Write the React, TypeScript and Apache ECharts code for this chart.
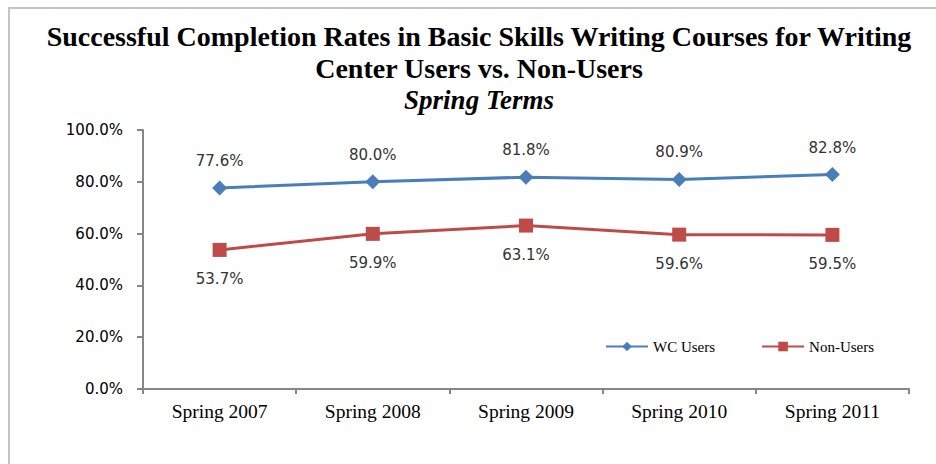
import React, { useEffect, useRef } from "react";
import * as echarts from "echarts";

const categories = ["Spring 2007", "Spring 2008", "Spring 2009", "Spring 2010", "Spring 2011"];
const wcUsers = [77.6, 80.0, 81.8, 80.9, 82.8];
const nonUsers = [53.7, 59.9, 63.1, 59.6, 59.5];
const titleLines = [
  "Successful Completion Rates in Basic Skills Writing Courses for Writing",
  "Center Users vs. Non-Users",
];
const subTitle = "Spring Terms";

export default function App() {
  const ref = useRef<HTMLDivElement>(null);
  useEffect(() => {
    if (!ref.current) return;
    const chart = echarts.init(ref.current, null, { renderer: "svg" });
    const serif = "'Liberation Serif', 'Times New Roman', serif";
    const sans = "'DejaVu Sans', sans-serif";
    chart.setOption({
      animation: false,
      backgroundColor: "#ffffff",
      graphic: [
        {
          type: "rect",
          shape: { x: 9, y: 8, width: 940, height: 470 },
          style: { fill: "none", stroke: "#c4c4c4", lineWidth: 2 },
        },
        {
          type: "text",
          x: 479,
          y: 36,
          style: {
            text: titleLines[0],
            font: `bold 28px ${serif}`,
            fill: "#000",
            textAlign: "center",
            textVerticalAlign: "middle",
          },
        },
        {
          type: "text",
          x: 479,
          y: 68,
          style: {
            text: titleLines[1],
            font: `bold 28px ${serif}`,
            fill: "#000",
            textAlign: "center",
            textVerticalAlign: "middle",
          },
        },
        {
          type: "text",
          x: 479,
          y: 100,
          style: {
            text: subTitle,
            font: `italic bold 27px ${serif}`,
            fill: "#000",
            textAlign: "center",
            textVerticalAlign: "middle",
          },
        },
      ],
      legend: {
        left: 600,
        top: 334,
        itemWidth: 42,
        itemHeight: 12,
        itemGap: 46,
        textStyle: { fontFamily: serif, fontSize: 15, color: "#000" },
        data: ["WC Users", "Non-Users"],
      },
      grid: { left: 143, right: 27, top: 130, bottom: 75, containLabel: false },
      xAxis: {
        type: "category",
        data: categories,
        axisLine: { lineStyle: { color: "#868686", width: 2 } },
        axisTick: { show: true, length: 5, lineStyle: { color: "#868686", width: 2 } },
        axisLabel: { fontFamily: serif, fontSize: 19.5, color: "#000", margin: 12 },
      },
      yAxis: {
        type: "value",
        min: 0,
        max: 100,
        interval: 20,
        axisLine: { show: true, lineStyle: { color: "#868686", width: 2 } },
        axisTick: { show: true, length: 6, lineStyle: { color: "#868686", width: 2 } },
        splitLine: { show: false },
        axisLabel: {
          fontFamily: sans,
          fontSize: 15,
          color: "#000",
          margin: 20,
          formatter: (v: number) => v.toFixed(1) + "%",
        },
      },
      series: [
        {
          name: "WC Users",
          type: "line",
          data: wcUsers,
          symbol: "diamond",
          symbolSize: 15,
          itemStyle: { color: "#4a7ebb" },
          lineStyle: { color: "#4a7ebb", width: 3 },
          label: {
            show: true,
            position: "top",
            distance: 12,
            fontFamily: sans,
            fontSize: 15,
            color: "#333",
            formatter: (p: any) => p.value.toFixed(1) + "%",
          },
        },
        {
          name: "Non-Users",
          type: "line",
          data: nonUsers,
          symbol: "rect",
          symbolSize: 14,
          itemStyle: { color: "#be4b48" },
          lineStyle: { color: "#be4b48", width: 3 },
          label: {
            show: true,
            position: "bottom",
            distance: 15,
            fontFamily: sans,
            fontSize: 15,
            color: "#333",
            formatter: (p: any) => p.value.toFixed(1) + "%",
          },
        },
      ],
    });
    return () => chart.dispose();
  }, []);
  return (
    <div
      ref={ref}
      style={{ position: "fixed", left: 0, top: 0, width: 936, height: 464 }}
    />
  );
}
